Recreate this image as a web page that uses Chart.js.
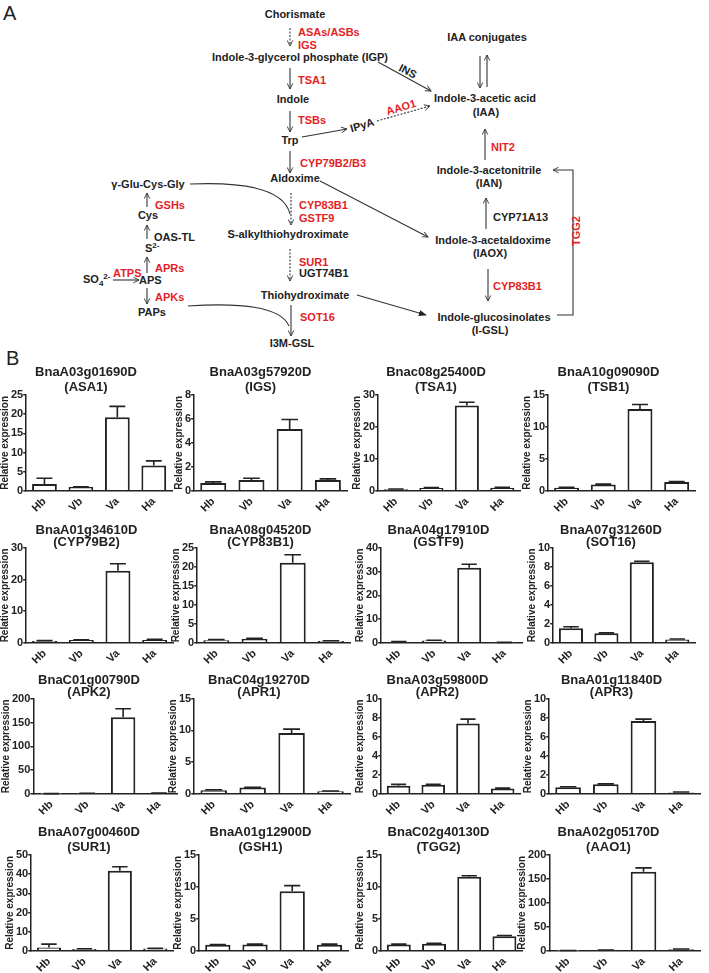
<!DOCTYPE html>
<html>
<head>
<meta charset="utf-8">
<script src="https://cdn.jsdelivr.net/npm/chart.js@4.4.0/dist/chart.umd.min.js"></script>
<style>
  body { margin: 0; background: #fff; width: 709px; height: 973px; position: relative; overflow: hidden;
         font-family: "Liberation Sans", Arial, sans-serif; }
  #pathway { position: absolute; left: 0; top: 0; }
  #pathway text { font-family: "Liberation Sans", Arial, sans-serif; font-size: 11px; font-weight: bold; fill: #222; }
  #pathway text.red { fill: #e41e26; }
  #pathway text.panel { font-size: 20px; font-weight: normal; }
  #pathway line, #pathway path, #pathway polyline { stroke: #333; stroke-width: 1.1; fill: none; }
  #pathway .dash { stroke-dasharray: 2 1.5; }
  .box { position: absolute; }
</style>
</head>
<body>
<svg id="pathway" width="709" height="370">
  <defs>
    <marker id="open" viewBox="0 0 10 10" refX="9" refY="5" markerWidth="7" markerHeight="7" orient="auto" markerUnits="userSpaceOnUse">
      <path d="M1,1 L9,5 L1,9" style="stroke:#333;stroke-width:1.3;fill:none;stroke-dasharray:none"/>
    </marker>
    <marker id="solid" viewBox="0 0 10 10" refX="9" refY="5" markerWidth="8" markerHeight="8" orient="auto" markerUnits="userSpaceOnUse">
      <path d="M0,1 L10,5 L0,9 Z" style="fill:#222;stroke:none"/>
    </marker>
  </defs>

  <text class="panel" x="3" y="20">A</text>
  <text class="panel" x="6" y="365">B</text>

  <!-- main tryptophan column -->
  <text x="295" y="18" text-anchor="middle">Chorismate</text>
  <line class="dash" x1="290" y1="28" x2="290" y2="46" marker-end="url(#open)"/>
  <text class="red" x="298" y="36">ASAs/ASBs</text>
  <text class="red" x="298" y="49">IGS</text>
  <text x="212" y="61">Indole-3-glycerol phosphate (IGP)</text>
  <line x1="290" y1="68" x2="290" y2="89" marker-end="url(#open)"/>
  <text class="red" x="298" y="84">TSA1</text>
  <text x="293" y="103" text-anchor="middle">Indole</text>
  <line x1="290" y1="111" x2="290" y2="132" marker-end="url(#open)"/>
  <text class="red" x="298" y="124">TSBs</text>
  <text x="290" y="144" text-anchor="middle">Trp</text>
  <line x1="302" y1="137" x2="347" y2="129" marker-end="url(#open)"/>
  <text x="362" y="129" text-anchor="middle" transform="rotate(-17 362 125)">IPyA</text>
  <line class="dash" x1="377" y1="121" x2="430" y2="106" marker-end="url(#open)"/>
  <text class="red" x="401" y="111" text-anchor="middle" transform="rotate(-17 401 107)">AAO1</text>
  <line x1="378" y1="62" x2="431" y2="91" marker-end="url(#open)"/>
  <text x="408" y="75" text-anchor="middle" transform="rotate(27 408 71)">INS</text>
  <line x1="290" y1="151" x2="290" y2="173" marker-end="url(#open)"/>
  <text class="red" x="300" y="167">CYP79B2/B3</text>
  <text x="295" y="182" text-anchor="middle">Aldoxime</text>
  <line x1="320" y1="181" x2="428" y2="237" marker-end="url(#open)"/>
  <line class="dash" x1="291" y1="193" x2="291" y2="225" marker-end="url(#open)"/>
  <path d="M190,184 Q282,180 290,214"/>
  <text class="red" x="299" y="209">CYP83B1</text>
  <text class="red" x="299" y="222">GSTF9</text>
  <text x="288" y="238" text-anchor="middle">S-alkylthiohydroximate</text>
  <line class="dash" x1="290" y1="249" x2="290" y2="281" marker-end="url(#open)"/>
  <text class="red" x="299" y="266">SUR1</text>
  <text x="299" y="277">UGT74B1</text>
  <text x="305" y="299" text-anchor="middle">Thiohydroximate</text>
  <line x1="357" y1="295" x2="426" y2="315" marker-end="url(#solid)"/>
  <line x1="291" y1="305" x2="291" y2="336" marker-end="url(#open)"/>
  <path d="M188,306 Q278,300 289,326"/>
  <text class="red" x="300" y="321">SOT16</text>
  <text x="292" y="347" text-anchor="middle">I3M-GSL</text>

  <!-- sulfur branch -->
  <text x="148" y="188" text-anchor="middle">γ-Glu-Cys-Gly</text>
  <line x1="147" y1="207" x2="147" y2="193" marker-end="url(#open)"/>
  <text class="red" x="155" y="209">GSHs</text>
  <text x="148" y="219" text-anchor="middle">Cys</text>
  <line x1="147" y1="239" x2="147" y2="225" marker-end="url(#open)"/>
  <text x="154" y="241">OAS-TL</text>
  <text x="145" y="252">S<tspan dy="-4" font-size="8">2-</tspan></text>
  <line x1="147" y1="273" x2="147" y2="257" marker-end="url(#open)"/>
  <text class="red" x="155" y="272">APRs</text>
  <text x="83" y="283">SO<tspan dy="3" font-size="8">4</tspan><tspan dy="-7" font-size="8">2-</tspan></text>
  <line x1="113" y1="280" x2="139" y2="280" marker-end="url(#open)"/>
  <text class="red" x="113" y="277">ATPS</text>
  <text x="139" y="284">APS</text>
  <line x1="147" y1="288" x2="147" y2="304" marker-end="url(#open)"/>
  <text class="red" x="155" y="301">APKs</text>
  <text x="138" y="316">PAPs</text>

  <!-- auxin column -->
  <text x="487" y="41" text-anchor="middle">IAA conjugates</text>
  <line x1="480" y1="56" x2="480" y2="88" marker-end="url(#open)"/>
  <line x1="487" y1="87" x2="487" y2="55" marker-end="url(#open)"/>
  <text x="485" y="102" text-anchor="middle">Indole-3-acetic acid</text>
  <text x="486" y="116" text-anchor="middle">(IAA)</text>
  <line x1="485" y1="160" x2="485" y2="129" marker-end="url(#open)"/>
  <text class="red" x="491" y="151">NIT2</text>
  <text x="489" y="174" text-anchor="middle">Indole-3-acetonitrile</text>
  <text x="489" y="187" text-anchor="middle">(IAN)</text>
  <line x1="486" y1="229" x2="486" y2="198" marker-end="url(#open)"/>
  <text x="493" y="221">CYP71A13</text>
  <text x="493" y="244" text-anchor="middle">Indole-3-acetaldoxime</text>
  <text x="490" y="257" text-anchor="middle">(IAOX)</text>
  <line x1="488" y1="269" x2="488" y2="301" marker-end="url(#open)"/>
  <text class="red" x="493" y="290">CYP83B1</text>
  <text x="494" y="321" text-anchor="middle">Indole-glucosinolates</text>
  <text x="490" y="334" text-anchor="middle">(I-GSL)</text>
  <polyline points="557,315 573,315 573,170 553,170" marker-end="url(#open)"/>
  <text class="red" x="584" y="235" text-anchor="middle" transform="rotate(-90 580 235)">TGG2</text>
</svg>

<div id="charts"></div>

<script>
// sample groups on the x axis
const groups = ['Hb', 'Vb', 'Va', 'Ha'];

// one entry per panel, read left-to-right, top-to-bottom
const geneIds = ['BnaA03g01690D', 'BnaA03g57920D', 'Bnac08g25400D', 'BnaA10g09090D',
                 'BnaA01g34610D', 'BnaA08g04520D', 'BnaA04g17910D', 'BnaA07g31260D',
                 'BnaC01g00790D', 'BnaC04g19270D', 'BnaA03g59800D', 'BnaA01g11840D',
                 'BnaA07g00460D', 'BnaA01g12900D', 'BnaC02g40130D', 'BnaA02g05170D'];
const geneNames = ['ASA1', 'IGS', 'TSA1', 'TSB1',
                   'CYP79B2', 'CYP83B1', 'GSTF9', 'SOT16',
                   'APK2', 'APR1', 'APR2', 'APR3',
                   'SUR1', 'GSH1', 'TGG2', 'AAO1'];

// mean relative expression (Hb, Vb, Va, Ha)
const means = [
  [1.8, 1.0, 19.2, 6.6], [0.65, 0.9, 5.15, 0.9], [0.5, 0.9, 26.7, 1.0], [0.5, 1.0, 12.8, 1.4],
  [0.6, 0.9, 22.8, 0.9], [0.7, 1.0, 21.1, 0.5], [0.4, 1.0, 31.6, 0.15], [1.55, 1.0, 8.5, 0.35],
  [0.3, 1.0, 161, 1.5], [0.55, 1.0, 9.6, 0.4], [0.85, 0.95, 7.4, 0.55], [0.7, 1.0, 7.65, 0.15],
  [1.8, 1.0, 41.8, 1.2], [0.95, 1.0, 9.3, 0.95], [1.0, 1.1, 11.6, 2.3], [0.3, 1.0, 165, 3.5]
];
// upper error bar (SD)
const errors = [
  [1.5, 0.05, 2.8, 1.2], [0.1, 0.15, 0.8, 0.1], [0.1, 0.1, 1.0, 0.1], [0.05, 0.05, 0.7, 0.05],
  [0.1, 0.1, 2.2, 0.2], [0.2, 0.2, 2.1, 0.05], [0.1, 0.1, 1.5, 0.05], [0.15, 0.05, 0.1, 0.05],
  [0.2, 0.3, 18, 0.4], [0.1, 0.05, 0.6, 0.05], [0.15, 0.05, 0.45, 0.05], [0.05, 0.05, 0.2, 0.05],
  [1.7, 0.1, 2.0, 0.1], [0.05, 0.05, 0.9, 0.1], [0.05, 0.08, 0.15, 0.1], [0.3, 0.5, 8, 0.5]
];
// y axis range and tick step per panel
const yMax = [25, 8, 30, 15, 30, 25, 40, 10, 200, 15, 10, 10, 50, 15, 15, 200];
const yStep = [5, 2, 10, 5, 10, 5, 10, 2, 50, 5, 2, 2, 10, 5, 5, 50];

const INK = '#222';
const FONT = '"Liberation Sans", Arial, sans-serif';
// panel boxes (the figure panels are not on an exact grid)
const boxLeft  = [0, 174, 352, 522,  0, 171, 355, 527,  1, 168, 355, 523,  5, 173, 355, 517];
const boxWidth = [175, 176, 171, 176, 176, 182, 170, 171, 179, 185, 168, 180, 171, 178, 170, 186];
const rowTop = [365, 524, 674, 825];
const rowHeight = [150, 143, 144, 150];
const titleLine = [1.15, 0.92, 0.95, 1.15];

// draws the upward SD whiskers using the chart's own y scale
const errorBars = {
  id: 'errorBars',
  afterDatasetsDraw(chart) {
    const ds = chart.data.datasets[0];
    const yScale = chart.scales.y;
    const ctx = chart.ctx;
    ctx.save();
    ctx.strokeStyle = INK;
    ctx.lineWidth = 1.6;
    chart.getDatasetMeta(0).data.forEach((bar, i) => {
      const top = yScale.getPixelForValue(ds.data[i] + ds.errors[i]);
      const half = bar.width * 0.32;
      ctx.beginPath();
      ctx.moveTo(bar.x, bar.y);
      ctx.lineTo(bar.x, top);
      ctx.moveTo(bar.x - half, top);
      ctx.lineTo(bar.x + half, top);
      ctx.stroke();
    });
    ctx.restore();
  }
};

const holder = document.getElementById('charts');

geneIds.forEach((id, i) => {
  const row = Math.floor(i / 4);
  const box = document.createElement('div');
  box.className = 'box';
  box.style.left = boxLeft[i] + 'px';
  box.style.top = rowTop[row] + 'px';
  const canvas = document.createElement('canvas');
  canvas.width = boxWidth[i];
  canvas.height = rowHeight[row];
  box.appendChild(canvas);
  holder.appendChild(box);

  new Chart(canvas.getContext('2d'), {
    type: 'bar',
    data: {
      labels: groups,
      datasets: [{
        data: means[i],
        errors: errors[i],
        backgroundColor: '#fff',
        borderColor: INK,
        borderWidth: 2,
        categoryPercentage: 1,
        barPercentage: 0.68
      }]
    },
    options: {
      responsive: false,
      animation: false,
      layout: { padding: { left: 0, right: 3, top: 0, bottom: 0 } },
      plugins: {
        legend: { display: false },
        tooltip: { enabled: false },
        title: {
          display: true,
          text: [id, '(' + geneNames[i] + ')'],
          color: INK,
          font: { family: FONT, size: 13, weight: 'bold', lineHeight: titleLine[row] },
          padding: { top: 0, bottom: 0 }
        }
      },
      scales: {
        x: {
          grid: { display: false, tickLength: 4 },
          border: { color: INK, width: 1.5 },
          ticks: { color: INK, font: { family: FONT, size: 11, weight: 'bold', lineHeight: 1 },
                   minRotation: 45, maxRotation: 45, padding: 1 }
        },
        y: {
          min: 0,
          max: yMax[i],
          ticks: { stepSize: yStep[i], color: INK, font: { family: FONT, size: 11, weight: 'bold' }, padding: 0 },
          grid: { drawOnChartArea: false, color: INK, lineWidth: 1.5, tickLength: 3 },
          border: { color: INK, width: 1.5 },
          title: { display: true, text: 'Relative expression', color: INK,
                   font: { family: FONT, size: 10, weight: 'bold', lineHeight: 1.1 }, padding: 0 }
        }
      }
    },
    plugins: [errorBars]
  });
});
</script>
</body>
</html>
